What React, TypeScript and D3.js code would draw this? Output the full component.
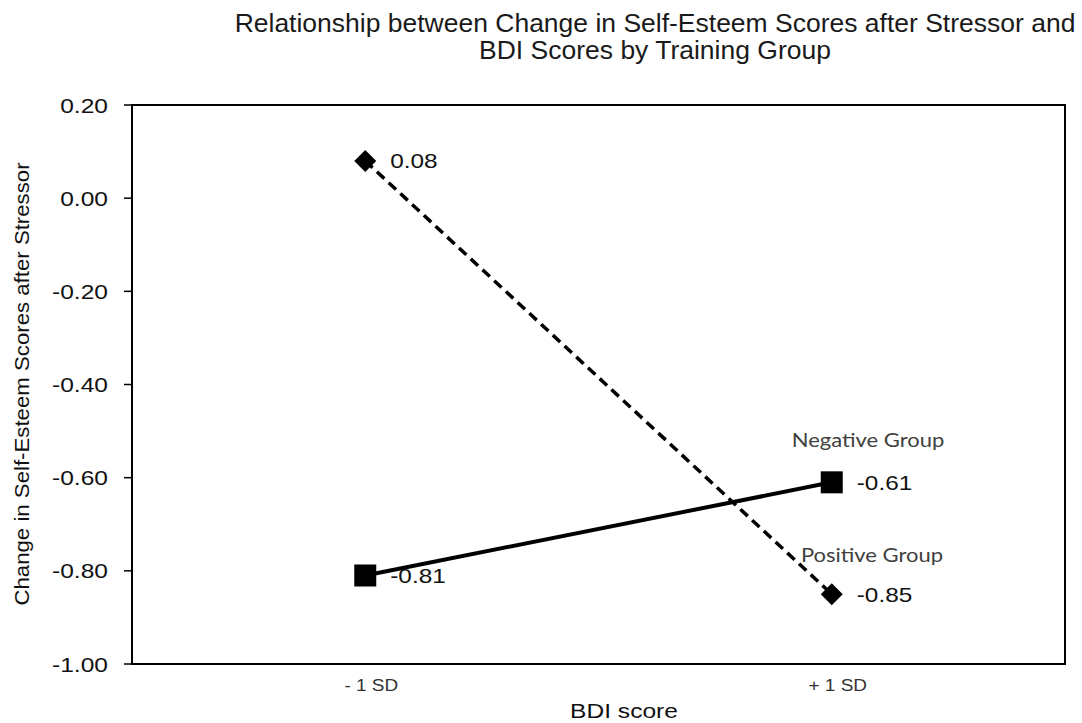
import React from "react";
import * as d3 from "d3";

const categories = ["- 1 SD", "+ 1 SD"];
const positiveGroup = [0.08, -0.85];
const negativeGroup = [-0.81, -0.61];
const yTicks = [0.2, 0.0, -0.2, -0.4, -0.6, -0.8, -1.0];
const seriesLabels = ["Positive Group", "Negative Group"];

const W = 1082, H = 723;
const M = { left: 132, right: 1065, top: 105, bottom: 664 };

function T(props: any) {
  const { x, y, sx = 1.16, rot = 0, children, ...rest } = props;
  return (
    <text transform={`translate(${x},${y}) rotate(${rot}) scale(${sx},1)`} {...rest}>
      {children}
    </text>
  );
}

export default function App() {
  const x = d3.scaleBand<string>().domain(categories).range([M.left, M.right]);
  const y = d3.scaleLinear().domain([-1, 0.2]).range([M.bottom, M.top]);
  const cx = (c: string) => (x(c) as number) + x.bandwidth() / 2;
  const line = d3.line<number>().x((_, i) => cx(categories[i])).y((d) => y(d));
  const sq = 22;
  const dm = 11;
  return (
    <svg width={W} height={H} style={{ position: "absolute", left: 0, top: 0, background: "#fff" }}
      fontFamily="Liberation Sans, Arial, sans-serif">
      <g fill="#1a1a1a" fontSize={25} textAnchor="middle">
        <T x={655} y={32} sx={1.06}>Relationship between Change in Self-Esteem Scores after Stressor and</T>
        <T x={655} y={59} sx={1.06}>BDI Scores by Training Group</T>
      </g>
      <rect x={M.left} y={M.top} width={M.right - M.left} height={M.bottom - M.top} fill="none" stroke="#000" strokeWidth={2} />
      {yTicks.map((t) => (
        <g key={t}>
          <line x1={M.left - 8} x2={M.left} y1={y(t)} y2={y(t)} stroke="#000" strokeWidth={1.5} />
          <T x={108} y={y(t) + 7.5} sx={1.17} textAnchor="end" fontSize={21} fill="#111">{t.toFixed(2)}</T>
        </g>
      ))}
      {categories.map((c) => (
        <T key={c} x={cx(c) + 6} y={691} sx={1.15} textAnchor="middle" fontSize={16.5} fill="#333">{c}</T>
      ))}
      <T x={624} y={718} sx={1.17} textAnchor="middle" fontSize={21} fill="#111">BDI score</T>
      <T x={29} y={384} rot={-90} sx={1.14} textAnchor="middle" fontSize={19.5} fill="#111">
        Change in Self-Esteem Scores after Stressor
      </T>
      <path d={line(positiveGroup) as string} fill="none" stroke="#000" strokeWidth={3.5} strokeDasharray="10,6" />
      <path d={line(negativeGroup) as string} fill="none" stroke="#000" strokeWidth={4} />
      {positiveGroup.map((v, i) => {
        const px = cx(categories[i]), py = y(v);
        return (
          <g key={"p" + i}>
            <path d={`M${px},${py - dm}L${px + dm},${py}L${px},${py + dm}L${px - dm},${py}Z`} fill="#000" />
            <T x={px + 25} y={py + 7.5} fontSize={21} fill="#111">{v.toFixed(2)}</T>
          </g>
        );
      })}
      {negativeGroup.map((v, i) => {
        const px = cx(categories[i]), py = y(v);
        return (
          <g key={"n" + i}>
            <rect x={px - sq / 2} y={py - sq / 2} width={sq} height={sq} fill="#000" />
            <T x={px + 25} y={py + 7.5} fontSize={21} fill="#111">{v.toFixed(2)}</T>
          </g>
        );
      })}
      <g fontFamily="Lato, Carlito, sans-serif" fontSize={20} fill="#404040" textAnchor="middle">
        <T x={872} y={562} sx={1.1}>{seriesLabels[0]}</T>
        <T x={868} y={447} sx={1.1}>{seriesLabels[1]}</T>
      </g>
    </svg>
  );
}
